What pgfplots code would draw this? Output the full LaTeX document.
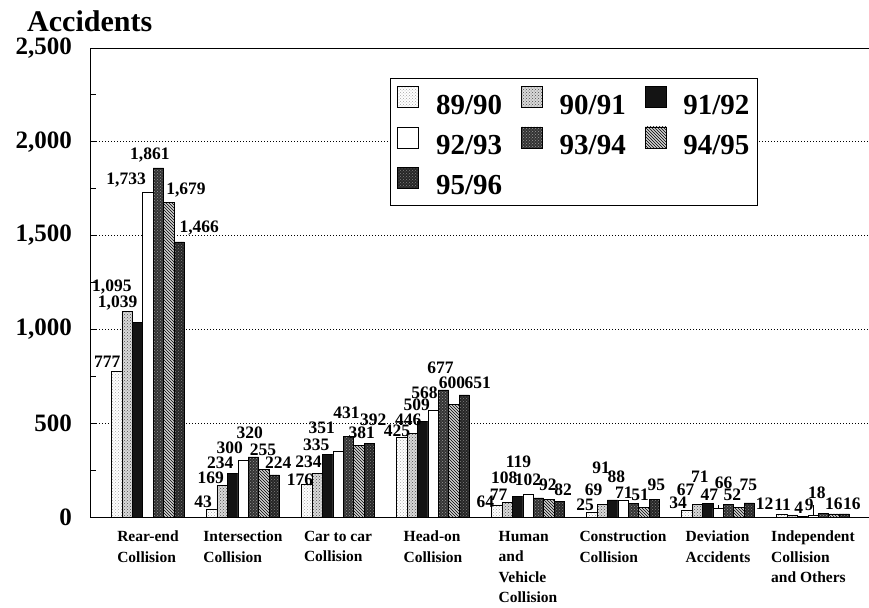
\documentclass[border=0pt]{standalone}
\usepackage{pgfplots}
\pgfplotsset{compat=1.18}
\usepackage{fontspec}
\setmainfont{Liberation Serif}
\usetikzlibrary{patterns}

\begin{document}
\begin{tikzpicture}[x=1pt,y=1pt]
\path[use as bounding box] (0,0) rectangle (869,607);
\node[anchor=base west, font=\bfseries\fontsize{30}{30}\selectfont, inner sep=0pt] at (27,575) {Accidents};
\begin{axis}[
  at={(90pt,90pt)}, anchor=south west,
  scale only axis, width=780pt, height=469pt,
  xmin=-0.6105, xmax=7.6, ymin=0, ymax=2500,
  axis line style={black, line width=0.8pt},
  tick pos=left, tick align=inside,
  ytick={0,500,...,2500},
  minor y tick num=1,
  major tick length=6pt, minor tick length=6pt,
  tick style={black, line width=0.8pt},
  xtick={0,...,7},
  xtick style={/pgfplots/major tick length=12pt},
  xticklabels={{Rear-end\\Collision},{Intersection\\Collision},{Car to car\\Collision},{Head-on\\Collision},{Human\\and\\Vehicle\\Collision},{Construction\\Collision},{Deviation\\Accidents},{Independent\\Collision\\and Others}},
  xticklabel style={font=\bfseries\fontsize{15.5}{20.5}\selectfont, align=left, anchor=north, inner sep=0pt, yshift=-14pt},
  yticklabel style={font=\bfseries\fontsize{25}{25}\selectfont, inner sep=0pt, xshift=-18pt},
  /pgf/number format/1000 sep={,},
  /pgf/number format/assume math mode=true,
  ymajorgrids,
  major grid style={black, line width=0.8pt, dash pattern=on 0.9pt off 2.1pt},
  legend columns=3,
  legend cell align=left,
  legend style={at={(0.3846,0.936)}, anchor=north west, draw=black, line width=0.9pt,
    font=\bfseries\fontsize{29}{29}\selectfont,
    inner xsep=7pt, inner ysep=8pt, row sep=9.5pt,
    nodes={inner sep=1pt},
    /tikz/every odd column/.append style={column sep=16pt},
    /tikz/every even column/.append style={column sep=18pt}},
  mybar/.style={ybar, bar width=10.4pt, draw=black, line width=0.6pt,
    legend image code/.code={\draw[##1, draw=black, line width=0.6pt] (0pt,-2pt) rectangle (21pt,19pt);}},
]
\addplot[mybar, bar shift=-31.2pt, fill=white, postaction={pattern=crosshatch dots, pattern color=gray!70}]
  coordinates {(0,777) (1,43) (2,176) (3,425) (4,64) (5,25) (6,34) (7,12)};
\addplot[mybar, bar shift=-20.8pt, fill=gray!30, postaction={pattern=crosshatch dots, pattern color=black!70}]
  coordinates {(0,1095) (1,169) (2,234) (3,446) (4,77) (5,69) (6,67) (7,11)};
\addplot[mybar, bar shift=-10.4pt, fill=black!92]
  coordinates {(0,1039) (1,234) (2,335) (3,509) (4,108) (5,91) (6,71) (7,4)};
\addplot[mybar, bar shift=0pt, fill=white]
  coordinates {(0,1733) (1,300) (2,351) (3,568) (4,119) (5,88) (6,47) (7,9)};
\addplot[mybar, bar shift=10.4pt, fill=black!80, postaction={pattern=crosshatch dots, pattern color=white!60!black}]
  coordinates {(0,1861) (1,320) (2,431) (3,677) (4,102) (5,71) (6,66) (7,18)};
\addplot[mybar, bar shift=20.8pt, fill=gray!35, postaction={pattern=north west lines, pattern color=black}]
  coordinates {(0,1679) (1,255) (2,381) (3,600) (4,92) (5,51) (6,52) (7,16)};
\addplot[mybar, bar shift=31.2pt, fill=black!85, postaction={pattern=crosshatch dots, pattern color=gray}]
  coordinates {(0,1466) (1,224) (2,392) (3,651) (4,82) (5,95) (6,75) (7,16)};
\legend{89/90,90/91,91/92,92/93,93/94,94/95,95/96}

\addplot[draw=none, mark=none, forget plot, nodes near coords, point meta=explicit symbolic,
  every node near coord/.append style={anchor=center, font=\bfseries\fontsize{17.5}{17.5}\selectfont, inner sep=0pt, text=black}]
  table[meta=lab] {
x y lab
-0.43 826 777
-0.38 1226 1,095
-0.32 1141 1,039
-0.23 1796 1,733
0.02 1930 1,861
0.40 1743 1,679
0.54 1540 1,466
0.58 80 43
0.66 208 169
0.76 288 234
0.86 368 300
1.07 448 320
1.21 357 255
1.37 288 224
1.60 197 176
1.69 293 234
1.77 384 335
1.83 474 351
2.09 554 431
2.37 517 392
2.25 448 381
2.62 458 425
2.74 517 446
2.83 597 509
2.91 661 568
3.08 794 677
3.20 714 600
3.47 714 651
3.55 80 64
3.69 117 77
3.75 208 108
3.90 293 119
4.00 197 102
4.21 171 92
4.37 144 82
4.60 64 25
4.69 144 69
4.77 261 91
4.93 213 88
5.01 128 71
5.18 117 51
5.35 171 95
5.58 75 34
5.66 144 67
5.81 213 71
5.91 117 47
6.06 181 66
6.15 117 52
6.32 171 75
6.49 69 12
6.68 64 11
6.85 48 4
6.96 64 9
7.04 128 18
7.22 69 16
7.41 69 16
};
\end{axis}
\end{tikzpicture}
\end{document}
